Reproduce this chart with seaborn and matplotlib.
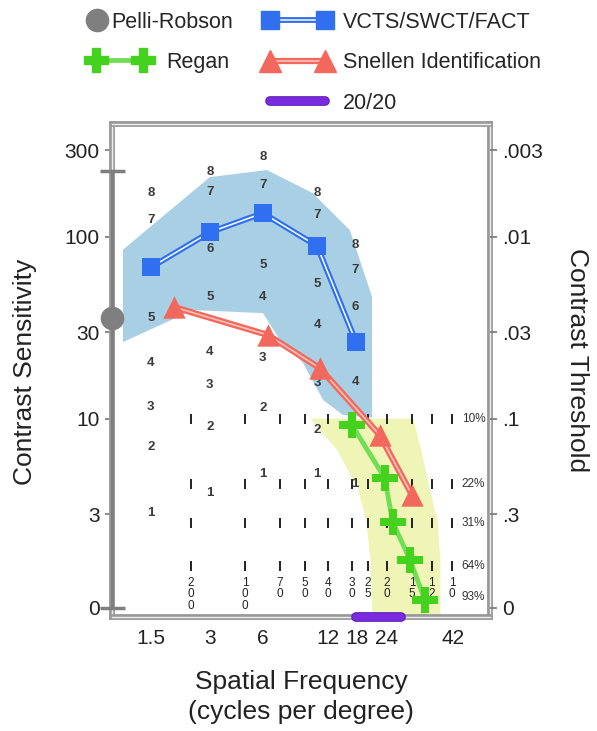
import numpy as np
import matplotlib
matplotlib.use("Agg")
import matplotlib.pyplot as plt
import matplotlib.patheffects as pe
from matplotlib.lines import Line2D
from matplotlib.ticker import NullLocator
import seaborn as sns

# ---- values ----
freq_ticks = [1.5, 3, 6, 12, 18, 24, 42]
freq_tick_labels = ["1.5", "3", "6", "12", "18", "24", "42"]
cs_ticks = [300, 100, 30, 10, 3, 0.914]
cs_tick_labels = ["300", "100", "30", "10", "3", "0"]
thr_tick_labels = [".003", ".01", ".03", ".1", ".3", "0"]

# VCTS/SWCT/FACT norms and their range
vcts_freq = [1.5, 3, 6, 10.7, 17.8]
vcts_cs = [68, 106, 135, 89, 26.4]
band_upper_freq = [1.08, 3, 6.26, 10.2, 16.3, 20.8]
band_upper_cs = [85, 213, 233, 174, 109, 47]
band_lower_freq = [1.08, 2.46, 6, 7.2, 9.2, 11.4, 14.8, 20.8]
band_lower_cs = [26.4, 39.6, 38.1, 27.1, 20.3, 12.7, 10.5, 10.2]

# chart row numbers printed in each VCTS column
digit_freq = [1.5] * 7 + [3] * 8 + [6] * 7 + [10.7] * 7 + [17.6] * 5
digit_cs = [174, 124, 35.8, 20.3, 11.6, 7.0, 3.04,
            227, 176, 85.7, 46.7, 23.3, 15.3, 9.0, 3.9,
            275, 193, 70, 46.7, 21.6, 11.5, 4.97,
            174, 132, 55, 32.7, 15.7, 8.7, 4.97,
            90, 65.7, 41.1, 15.9, 4.39]
digit_text = ["8", "7", "5", "4", "3", "2", "1",
              "8", "7", "6", "5", "4", "3", "2", "1",
              "8", "7", "5", "4", "3", "2", "1",
              "8", "7", "5", "4", "3", "2", "1",
              "8", "7", "6", "4", "1"]

# Snellen identification
snellen_freq = [1.97, 6.33, 11.0, 22.4, 29.7]
snellen_cs = [41.1, 28.9, 19.0, 8.15, 3.81]

# Regan charts and their range
regan_freq = [16.8, 23.5, 25.2, 29.2, 33.1]
regan_cs = [9.25, 4.73, 2.71, 1.68, 1.01]
regan_band_cs = [10.1, 6.75, 4.22, 2.78, 1.67, 0.815]
regan_band_left = [9.9, 13.6, 18, 19.6, 20.4, 20.8]
regan_band_right = [29.9, 32, 34.3, 36.7, 37.6, 37.6]

# Pelli-Robson
pr_freq = 0.95
pr_cs = 36
pr_low, pr_high = 0.914, 229

# Snellen acuity columns (20/xx) and contrast rows
acuity_freq = [2.4, 4.74, 7.2, 9.39, 12, 16.8, 20, 24, 29.7, 35.1, 41.7]
acuity_denom = ["200", "100", "70", "50", "40", "30", "25", "20", "15", "12", "10"]
row_cs = [10, 4.4, 2.68, 1.55]
row_label_cs = [10, 4.4, 2.68, 1.55, 1.05]
row_labels = ["10%", "22%", "31%", "64%", "93%"]

normal_freq = [17.7, 27.1]

x_limits = (0.95, 57.5)
y_limits = (0.815, 417)

# ---- x axis: hand drawn, piecewise log spacing ----
anchor_freq = np.array([0.5, 1.5, 3, 6, 12, 18, 24, 42, 100])
anchor_pos = np.array([57.5, 151, 210, 263, 328, 357, 387, 453, 555.4])


def fwd(x):
    x = np.clip(np.asarray(x, dtype=float), 1e-3, None)
    return np.interp(np.log2(x), np.log2(anchor_freq), anchor_pos)


def inv(p):
    return 2 ** np.interp(np.asarray(p, dtype=float), anchor_pos, np.log2(anchor_freq))


sns.set_style("white")
plt.rcParams["font.family"] = ["Liberation Sans", "DejaVu Sans"]

blue = "#2f6ff0"
red = "#f3685c"
green = "#44d21e"
gray = "#7f7f7f"
purple = "#7a2be0"

fig = plt.figure(figsize=(5.97, 7.31), dpi=100)
ax = fig.add_axes([112 / 597, 114 / 731, 378 / 597, 493 / 731])
ax.set_xscale("function", functions=(fwd, inv))
ax.set_yscale("log")

# ranges
ax.fill(band_upper_freq + band_lower_freq[::-1], band_upper_cs + band_lower_cs[::-1],
        color="#a9cfe4", lw=0, zorder=1)
ax.fill_betweenx(regan_band_cs, regan_band_left, regan_band_right,
                 color="#eef5b6", lw=0, zorder=1)

# chart row numbers
for f, c, t in zip(digit_freq, digit_cs, digit_text):
    ax.text(f, c, t, ha="center", va="center", fontsize=9.5,
            fontweight="bold", color="#3a3a3a", zorder=2)

# Snellen acuity grid
grid_f = [f for _ in row_cs for f in acuity_freq]
grid_c = [c for c in row_cs for _ in acuity_freq]
sns.scatterplot(x=grid_f, y=grid_c, marker="|", s=45, color="#222222",
                linewidth=1.4, ax=ax, zorder=2, legend=False)
for f, d in zip(acuity_freq, acuity_denom):
    ax.text(f, 1.36, "\n".join(d), ha="center", va="top", fontsize=8.5,
            linespacing=0.95, color="#222222", zorder=2)
for c, lab in zip(row_label_cs, row_labels):
    ax.text(45.3, c, lab, ha="left", va="center", fontsize=8.5, color="#333333", zorder=2)

# VCTS line (double line)
sns.lineplot(x=vcts_freq, y=vcts_cs, color="white", lw=1.1, sort=False, ax=ax, zorder=3)
ax.lines[-1].set_path_effects([pe.Stroke(linewidth=4.2, foreground=blue), pe.Normal()])
sns.scatterplot(x=vcts_freq, y=vcts_cs, marker="s", s=170, color=blue,
                linewidth=0, ax=ax, zorder=4)

# Snellen line
sns.lineplot(x=snellen_freq, y=snellen_cs, color="#f9c2ba", lw=1.2, sort=False, ax=ax, zorder=3)
ax.lines[-1].set_path_effects([pe.Stroke(linewidth=4.5, foreground=red), pe.Normal()])
sns.scatterplot(x=snellen_freq, y=snellen_cs, marker="^", s=260, color=red,
                linewidth=0, ax=ax, zorder=4)

# Regan line
sns.lineplot(x=regan_freq, y=regan_cs, color="#74dd56", lw=3.5, sort=False, ax=ax, zorder=3)
sns.scatterplot(x=regan_freq, y=regan_cs, marker="P", s=330, color=green,
                linewidth=0, ax=ax, zorder=4)

# Pelli-Robson range and mean
eb = ax.errorbar([pr_freq], [pr_cs], yerr=[[pr_cs - pr_low], [pr_high - pr_cs]],
                 fmt="none", ecolor=gray, elinewidth=2.5, capsize=9, capthick=2.5, zorder=5)
for art in list(eb.lines[1]) + list(eb.lines[2]):
    art.set_clip_on(False)
ax.plot([pr_freq], [pr_cs], "o", ms=16, color=gray, clip_on=False, zorder=6)

# 20/20
ax.plot(normal_freq, [y_limits[0]] * 2, color=purple, lw=5.5, solid_capstyle="round",
        clip_on=False, zorder=6,
        path_effects=[pe.Stroke(linewidth=7, foreground="#5a1eb0", capstyle="round"), pe.Normal()])

# axes
ax.set_xlim(*x_limits)
ax.set_ylim(*y_limits)
ax.set_xticks(freq_ticks, labels=freq_tick_labels)
ax.set_xticks(acuity_freq, minor=True)
ax.set_yticks(cs_ticks, labels=cs_tick_labels)
ax.yaxis.set_minor_locator(NullLocator())
ax.tick_params(which="major", direction="out", length=5, width=1.2, color="#777777",
               labelsize=15, labelcolor="#222222", pad=4)
ax.tick_params(axis="x", which="minor", direction="in", length=4, width=1.2, color="#555555")
ax.set_xlabel("")
ax.set_ylabel("")
for sp in ax.spines.values():
    sp.set_visible(True)
    sp.set_color("#eeeeee")
    sp.set_linewidth(1.0)
    sp.set_path_effects([pe.Stroke(linewidth=4.2, foreground="#9a9a9a"), pe.Normal()])

tw = ax.twinx()
tw.set_yscale("log")
tw.set_ylim(*y_limits)
tw.set_yticks(cs_ticks, labels=thr_tick_labels)
tw.yaxis.set_minor_locator(NullLocator())
tw.tick_params(direction="out", length=5, width=1.2, color="#777777",
               labelsize=15, labelcolor="#222222", pad=4)
for sp in tw.spines.values():
    sp.set_visible(False)

fig.text(25 / 597, 1 - 372 / 731, "Contrast Sensitivity", rotation=90,
         ha="center", va="center", fontsize=19, color="#222222")
fig.text(577 / 597, 1 - 360 / 731, "Contrast Threshold", rotation=270,
         ha="center", va="center", fontsize=19, color="#222222")
fig.text(301 / 597, 1 - 697 / 731, "Spatial Frequency\n(cycles per degree)",
         ha="center", va="center", fontsize=19, linespacing=1.32, color="#222222")

# legend
pr_handle = Line2D([], [], ls="none", marker="o", ms=16, color=gray)
regan_handle = (Line2D([], [], color="#74dd56", lw=3.5),
                Line2D([], [], ls="none", marker="P", ms=17, color=green))
vcts_handle = (Line2D([], [], color="white", lw=1.1,
                      path_effects=[pe.Stroke(linewidth=4.2, foreground=blue), pe.Normal()]),
               Line2D([], [], ls="none", marker="s", ms=13, color=blue))
snellen_handle = (Line2D([], [], color="#f9c2ba", lw=1.2,
                         path_effects=[pe.Stroke(linewidth=4.5, foreground=red), pe.Normal()]),
                  Line2D([], [], ls="none", marker="^", ms=16, color=red))
normal_handle = Line2D([], [], color=purple, lw=5.5, solid_capstyle="round",
                       path_effects=[pe.Stroke(linewidth=7, foreground="#5a1eb0", capstyle="round"),
                                     pe.Normal()])

common = dict(frameon=False, borderpad=0, borderaxespad=0, fontsize=15.5,
              loc="upper left", labelspacing=0.9)
fig.legend([pr_handle], ["Pelli-Robson"], bbox_to_anchor=(86 / 597, 1 - 12 / 731),
           handlelength=1.0, handletextpad=0.15, numpoints=1, **common)
fig.legend([regan_handle], ["Regan"], bbox_to_anchor=(90 / 597, 1 - 52 / 731),
           handlelength=2.75, handletextpad=0.8, numpoints=2, **common)
fig.legend([vcts_handle, snellen_handle, normal_handle],
           ["VCTS/SWCT/FACT", "Snellen Identification", "20/20"],
           bbox_to_anchor=(264 / 597, 1 - 12 / 731),
           handlelength=3.15, handletextpad=0.5, numpoints=2, **common)

fig.savefig("out.png", dpi=100)
